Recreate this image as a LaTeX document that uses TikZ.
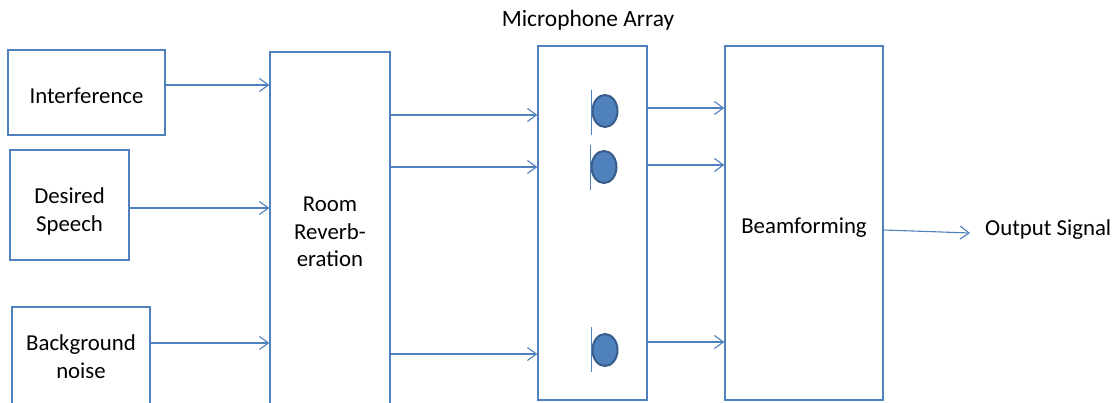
\documentclass[tikz,border=0pt]{standalone}
\usepackage{fontspec}
\setmainfont{Carlito}
\usetikzlibrary{shapes.geometric,arrows.meta}
\definecolor{boxblue}{HTML}{4F81BD}
\definecolor{micline}{HTML}{385D8A}

\begin{document}
\begin{tikzpicture}[
    x=1pt, y=-1pt,
    box/.style={rectangle, draw=boxblue, line width=1.3pt, fill=white, align=center, font=\fontsize{22.8}{27.7}\selectfont},
    line/.style={draw=boxblue, line width=1.1pt, -{Straight Barb[length=9pt, width=13pt, line width=1.1pt]}},
    mic/.style={ellipse, draw=micline, line width=2pt, fill=boxblue, minimum width=25pt, minimum height=32pt, inner sep=0pt},
    micbar/.style={draw=boxblue, line width=1.2pt},
    plain/.style={font=\fontsize{22.8}{27.7}\selectfont, inner sep=0pt}
]
    \clip (0,0) rectangle (1113,403);
    \fill[white] (0,0) rectangle (1113,403);

    % Sources
    \node [box, minimum width=157pt, minimum height=85pt, text height=21.7pt, text depth=0pt] (interf) at (86.5,92.5) {Interference};
    \node [box, minimum width=119pt, minimum height=110pt, text height=52.4pt, text depth=0pt] (speech) at (69.5,205) {Desired\\Speech};
    \node [box, minimum width=138pt, minimum height=100pt] (noise) at (81,357) {Background\\noise};

    % Room and array
    \node [box, minimum width=120pt, minimum height=360pt] (room) at (330,232) {Room\\Reverb-\\eration};
    \node [box, minimum width=109pt, minimum height=354pt] (mics) at (592.5,223) {};
    \node [plain, font=\fontsize{23.4}{28}\selectfont] (arraytitle) at (588,20) {Microphone Array};

    % Microphones
    \node [mic] (m1) at (605,111) {};
    \node [mic] (m2) at (604,167) {};
    \node [mic] (m3) at (605,350) {};
    \draw [micbar] ([yshift=21pt]m1.west) -- ([yshift=-24pt]m1.west);
    \draw [micbar] ([yshift=22pt]m2.west) -- ([yshift=-23pt]m2.west);
    \draw [micbar] ([yshift=23pt]m3.west) -- ([yshift=-22pt]m3.west);

    % Beamformer and output
    \node [box, minimum width=158pt, minimum height=354pt, text height=21.3pt, text depth=0pt] (beam) at (804,223) {Beamforming};
    \node [plain, anchor=west] (out) at (985,230) {Output Signal};

    % Paths
    \path [line] ([yshift=7.5pt]interf.east) -- ([yshift=7.5pt]interf.east -| room.west);
    \path [line] ([yshift=-3pt]speech.east) -- ([yshift=-3pt]speech.east -| room.west);
    \path [line] ([yshift=14pt]noise.east) -- ([yshift=14pt]noise.east -| room.west);
    \path [line] ([yshift=117pt]room.east) -- ([yshift=117pt]room.east -| mics.west);
    \path [line] ([yshift=65pt]room.east) -- ([yshift=65pt]room.east -| mics.west);
    \path [line] ([yshift=-122pt]room.east) -- ([yshift=-122pt]room.east -| mics.west);
    \path [line] ([yshift=115pt]mics.east) -- ([yshift=115pt]mics.east -| beam.west);
    \path [line] ([yshift=58pt]mics.east) -- ([yshift=58pt]mics.east -| beam.west);
    \path [line] ([yshift=-119pt]mics.east) -- ([yshift=-119pt]mics.east -| beam.west);
    \path [line] ([yshift=-7pt]beam.east) -- ([xshift=-15pt,yshift=-3pt]out.west);

\end{tikzpicture}
\end{document}
